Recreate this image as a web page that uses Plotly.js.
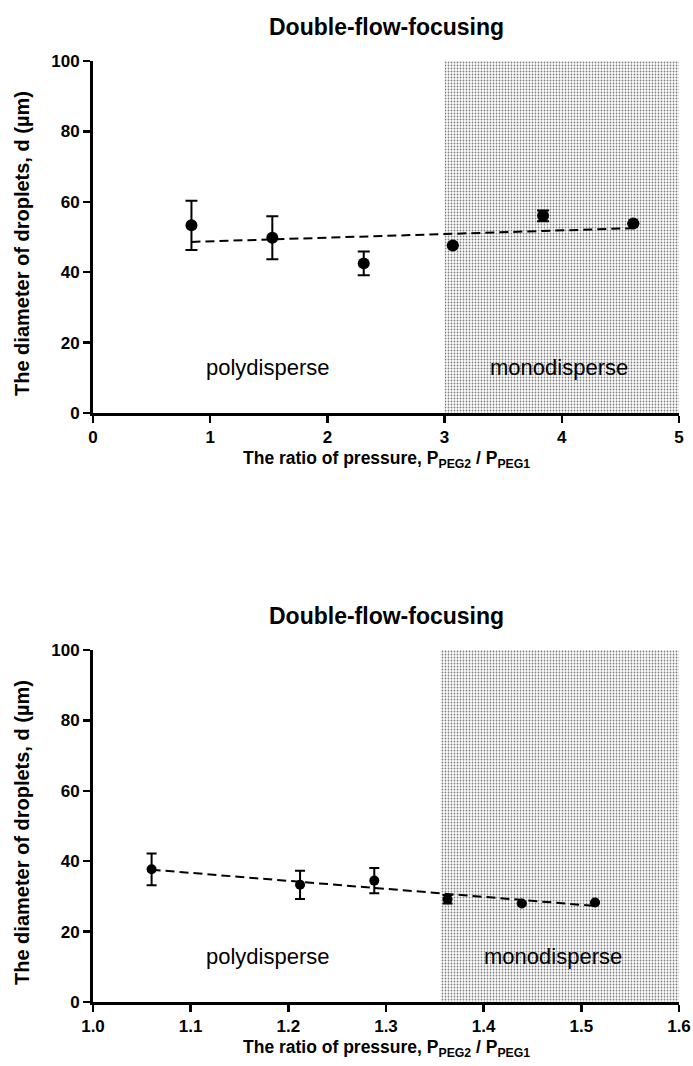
<!DOCTYPE html>
<html>
<head>
<meta charset="utf-8">
<script src="https://cdn.plot.ly/plotly-3.0.1.min.js"></script>
<style>
html,body{margin:0;padding:0;background:#fff;}
#chart{width:693px;height:1066px;}
</style>
</head>
<body>
<div id="chart"></div>
<script>
// ---- Top chart data ----
var topX = [0.84, 1.53, 2.31, 3.07, 3.84, 4.61];
var topY = [53.3, 49.8, 42.5, 47.6, 56.0, 53.8];
var topErr = [7.0, 6.1, 3.4, 0, 1.5, 0];
var topFitX = [0.84, 4.61];
var topFitY = [48.6, 52.5];
var topMonoRange = [3, 5];

// ---- Bottom chart data ----
var botX = [1.060, 1.212, 1.288, 1.363, 1.439, 1.514];
var botY = [37.7, 33.3, 34.5, 29.2, 28.0, 28.3];
var botErr = [4.5, 4.0, 3.6, 1.2, 0, 0];
var botFitX = [1.060, 1.514];
var botFitY = [37.6, 27.3];
var botMonoRange = [1.356, 1.6];

var yRange = [0, 100];
var topXTicks = [0, 1, 2, 3, 4, 5];
var botXTicks = [1.0, 1.1, 1.2, 1.3, 1.4, 1.5, 1.6];
var yTicks = [0, 20, 40, 60, 80, 100];

var chartTitle = 'Double-flow-focusing';
var xTitle = 'The ratio of pressure, P<sub>PEG2</sub> / P<sub>PEG1</sub>';
var yTitle = 'The diameter of droplets, d (\u00b5m)';
var polyLabel = 'polydisperse';
var monoLabel = 'monodisperse';

var FONT = 'Liberation Sans, Arial, sans-serif';

function region(r, xa, ya) {
  return {
    x: [r[0], r[1], r[1], r[0], r[0]],
    y: [yRange[0], yRange[0], yRange[1], yRange[1], yRange[0]],
    xaxis: xa, yaxis: ya,
    mode: 'lines', line: {width: 0},
    fill: 'toself',
    fillcolor: 'rgba(0,0,0,0)',
    fillpattern: {shape: '.', size: 3, solidity: 0.28, fgcolor: '#7a7a7a', bgcolor: '#ffffff', fillmode: 'replace'},
    hoverinfo: 'skip', showlegend: false
  };
}

var traces = [
  region(topMonoRange, 'x', 'y'),
  {
    x: topFitX, y: topFitY, xaxis: 'x', yaxis: 'y',
    mode: 'lines', line: {color: '#000', width: 2, dash: '9px,5px'},
    showlegend: false
  },
  {
    x: topX, y: topY, xaxis: 'x', yaxis: 'y',
    mode: 'markers', marker: {color: '#000', size: 12},
    error_y: {type: 'data', array: topErr, visible: true, color: '#000', thickness: 2, width: 6},
    showlegend: false
  },
  region(botMonoRange, 'x2', 'y2'),
  {
    x: botFitX, y: botFitY, xaxis: 'x2', yaxis: 'y2',
    mode: 'lines', line: {color: '#000', width: 2, dash: '9px,5px'},
    showlegend: false
  },
  {
    x: botX, y: botY, xaxis: 'x2', yaxis: 'y2',
    mode: 'markers', marker: {color: '#000', size: 10},
    error_y: {type: 'data', array: botErr, visible: true, color: '#000', thickness: 2, width: 5},
    showlegend: false
  }
];

var tickFont = {family: FONT, size: 17, color: '#000', weight: 'bold'};

function xAxis(range, ticks, fmt, anchor) {
  return {
    domain: [0.1342, 0.9798], range: range, anchor: anchor,
    tickvals: ticks, tickformat: fmt,
    ticks: 'outside', ticklen: 7, tickwidth: 2.5, tickcolor: '#000',
    showline: true, linewidth: 3, linecolor: '#000',
    showgrid: false, zeroline: false, tickfont: tickFont, fixedrange: true
  };
}
function yAxis(domain, anchor) {
  return {
    domain: domain, range: yRange, anchor: anchor,
    tickvals: yTicks,
    ticks: 'outside', ticklen: 7, tickwidth: 2.5, tickcolor: '#000',
    showline: true, linewidth: 3, linecolor: '#000',
    showgrid: false, zeroline: false, tickfont: tickFont, fixedrange: true
  };
}

var annFont = {family: FONT, size: 22, color: '#000'};
var titleFont = {family: FONT, size: 23, color: '#000', weight: 'bold'};
var yTitleFont = {family: FONT, size: 20, color: '#000', weight: 'bold'};
var xTitleFont = {family: FONT, size: 17.5, color: '#000', weight: 'bold'};

var annotations = [
  {text: chartTitle, xref: 'paper', yref: 'paper', x: 386/693, y: (1066-27)/1066, showarrow: false, font: titleFont, xanchor: 'center', yanchor: 'middle'},
  {text: chartTitle, xref: 'paper', yref: 'paper', x: 386/693, y: (1066-616)/1066, showarrow: false, font: titleFont, xanchor: 'center', yanchor: 'middle'},
  {text: yTitle, xref: 'paper', yref: 'paper', x: 22/693, y: (1066-244)/1066, textangle: -90, showarrow: false, font: yTitleFont, xanchor: 'center', yanchor: 'middle'},
  {text: yTitle, xref: 'paper', yref: 'paper', x: 22/693, y: (1066-833)/1066, textangle: -90, showarrow: false, font: yTitleFont, xanchor: 'center', yanchor: 'middle'},
  {text: xTitle, xref: 'paper', yref: 'paper', x: 386/693, y: (1066-460)/1066, showarrow: false, font: xTitleFont, xanchor: 'center', yanchor: 'middle'},
  {text: xTitle, xref: 'paper', yref: 'paper', x: 386/693, y: (1066-1048)/1066, showarrow: false, font: xTitleFont, xanchor: 'center', yanchor: 'middle'},
  {text: polyLabel, xref: 'x', yref: 'y', x: 1.49, y: 12.8, showarrow: false, font: annFont},
  {text: monoLabel, xref: 'x', yref: 'y', x: 3.98, y: 12.8, showarrow: false, font: annFont},
  {text: polyLabel, xref: 'x2', yref: 'y2', x: 1.179, y: 13, showarrow: false, font: annFont},
  {text: monoLabel, xref: 'x2', yref: 'y2', x: 1.471, y: 13, showarrow: false, font: annFont}
];

var layout = {
  width: 693, height: 1066,
  margin: {l: 0, r: 0, t: 0, b: 0},
  paper_bgcolor: '#fff', plot_bgcolor: 'rgba(0,0,0,0)',
  showlegend: false,
  xaxis: xAxis([0, 5], topXTicks, 'd', 'y'),
  yaxis: yAxis([0.6126, 0.9428], 'x'),
  xaxis2: xAxis([1.0, 1.6], botXTicks, '.1f', 'y2'),
  yaxis2: yAxis([0.0600, 0.3902], 'x2'),
  annotations: annotations
};

Plotly.newPlot('chart', traces, layout, {displayModeBar: false, staticPlot: true});
</script>
</body>
</html>
